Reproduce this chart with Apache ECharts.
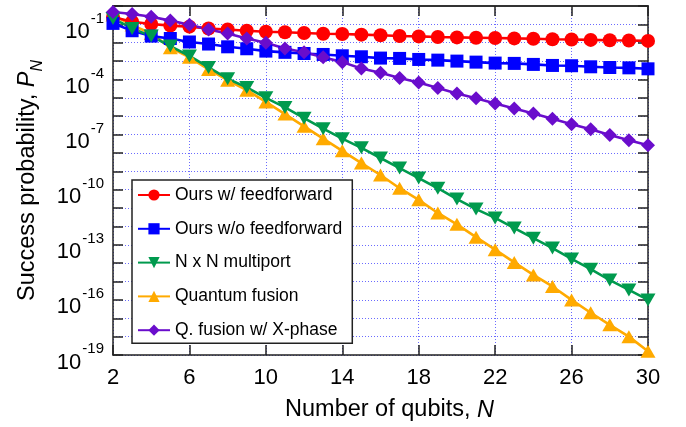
<!DOCTYPE html>
<html><head><meta charset="utf-8">
<script src="https://cdn.jsdelivr.net/npm/echarts@6/dist/echarts.min.js"></script>
<style>html,body{margin:0;padding:0;background:#fff}#c{width:686px;height:427px}</style>
</head><body><div id="c"></div>
<script>
const qubits = [2,3,4,5,6,7,8,9,10,11,12,13,14,15,16,17,18,19,20,21,22,23,24,25,26,27,28,29,30];
const oursFF = [2.5e-1,1.4e-1,1.05e-1,8.5e-2,7.5e-2,6.0e-2,5.3e-2,4.5e-2,4.0e-2,3.7e-2,3.4e-2,3.1e-2,3.0e-2,2.75e-2,2.57e-2,2.31e-2,2.21e-2,2.04e-2,1.95e-2,1.87e-2,1.8e-2,1.72e-2,1.66e-2,1.55e-2,1.49e-2,1.43e-2,1.37e-2,1.32e-2,1.26e-2];
const oursNoFF = [1.13e-1,4.5e-2,2.3e-2,1.7e-2,1.1e-2,8.5e-3,6.0e-3,4.7e-3,3.5e-3,3.0e-3,2.6e-3,2.3e-3,1.95e-3,1.72e-3,1.46e-3,1.4e-3,1.23e-3,1.13e-3,1.0e-3,8.8e-4,7.8e-4,7.5e-4,6.6e-4,5.8e-4,5.6e-4,4.9e-4,4.5e-4,4.3e-4,3.8e-4];
const multiport = [2.1e-1,6.0e-2,2.3e-2,6.6e-3,1.9e-3,4.5e-4,1.1e-4,3.7e-5,1.0e-5,3.0e-6,7.8e-7,2.1e-7,6.0e-8,1.9e-8,5.3e-9,1.5e-9,4.3e-10,1.2e-10,3.1e-11,8.8e-12,2.9e-12,8.1e-13,2.3e-13,6.6e-14,1.7e-14,4.7e-15,1.2e-15,3.5e-16,1.0e-16];
const fusion = [3.2e-1,9.1e-2,3.2e-2,5.4e-3,1.6e-3,3.5e-4,9.1e-5,2.6e-5,6.0e-6,1.3e-6,2.8e-7,6.0e-8,1.3e-8,2.8e-9,6.3e-10,1.2e-10,2.8e-11,5.4e-12,1.3e-12,2.6e-13,5.4e-14,1.1e-14,2.3e-15,5.4e-16,1.0e-16,2.0e-17,4.4e-18,1.0e-18,1.6e-19];
const fusionX = [4.7e-1,3.7e-1,2.6e-1,1.6e-1,9.6e-2,5.3e-2,3.2e-2,1.7e-2,1.0e-2,4.9e-3,3.0e-3,1.6e-3,8.8e-4,4.0e-4,2.3e-4,1.2e-4,6.9e-5,3.4e-5,1.7e-5,9.6e-6,4.9e-6,2.6e-6,1.4e-6,7.2e-7,3.7e-7,1.95e-7,9.6e-8,4.9e-8,2.6e-8];
const names = ['Ours w/ feedforward','Ours w/o feedforward','N x N multiport','Quantum fusion','Q. fusion w/ X-phase'];
const yLabelExps = [-1,-4,-7,-10,-13,-16,-19];

const FONT = 'Liberation Sans, Arial, Helvetica, sans-serif';
const pairs = arr => qubits.map((n,i)=>[n,arr[i]]);
const gridLine = {show:true, lineStyle:{color:'#6b6bff', width:1, type:[1,2]}};

function mk(name, arr, color, symbol, size, rot){
  return {name, type:'line', data:pairs(arr), symbol, symbolSize:size, symbolRotate:rot||0,
    itemStyle:{color}, lineStyle:{color, width:2.6}, emphasis:{disabled:true}, animation:false};
}

const chart = echarts.init(document.getElementById('c'));
chart.setOption({
  backgroundColor:'#fff',
  textStyle:{fontFamily:FONT},
  grid:{left:113, right:38, top:6, bottom:72, containLabel:false},
  legend:{data:names, orient:'vertical', left:132, top:180, backgroundColor:'#fff',
    borderColor:'#222', borderWidth:1.5, padding:[6,10,4,5], itemWidth:32, itemHeight:14, itemGap:15.8,
    textStyle:{fontSize:17.5, color:'#000', fontFamily:FONT}},
  xAxis:[{type:'value', min:2, max:30, interval:4, position:'bottom',
    name:'Number of qubits, {i|N}', nameLocation:'middle', nameGap:43,
    nameTextStyle:{fontSize:23.5, color:'#000', padding:[0,0,0,18], rich:{i:{fontSize:23.5,fontStyle:'italic',color:'#000'}}},
    axisLine:{onZero:false, lineStyle:{color:'#222', width:1.5}},
    axisTick:{inside:true, length:10, lineStyle:{color:'#222', width:1.5}},
    axisLabel:{fontSize:22, color:'#000', margin:12},
    splitLine:gridLine},
   {type:'value', min:2, max:30, interval:4, position:'top',
    axisLine:{onZero:false, lineStyle:{color:'#333', width:2}},
    axisTick:{inside:true, length:10, lineStyle:{color:'#222', width:1.5}},
    axisLabel:{show:false}, splitLine:{show:false}}],
  yAxis:[{type:'log', logBase:10, min:1e-19, max:1, interval:1, position:'left',
    name:'Success probability, {i|P}{s|N}', nameLocation:'middle', nameGap:65, nameRotate:90,
    nameTextStyle:{fontSize:23.5, color:'#000', rich:{i:{fontSize:23.5,fontStyle:'italic',color:'#000'}, s:{fontSize:16,fontStyle:'italic',color:'#000',verticalAlign:'bottom',padding:[0,0,-6,0]}}},
    axisLine:{lineStyle:{color:'#222', width:1.5}},
    axisTick:{inside:true, length:10, lineStyle:{color:'#222', width:1.5}},
    axisLabel:{margin:9, color:'#000', padding:[5,0,0,0], formatter:function(v){
      const e = Math.round(Math.log10(v));
      return yLabelExps.indexOf(e) >= 0 ? '{b|10}{s|' + e + '}' : '';
    }, rich:{b:{fontSize:22, color:'#000', fontFamily:FONT, verticalAlign:'bottom'},
             s:{fontSize:15, color:'#000', fontFamily:FONT, verticalAlign:'bottom', padding:[0,0,17,1]}}},
    splitLine:gridLine},
   {type:'log', logBase:10, min:1e-19, max:1, interval:1, position:'right',
    axisLine:{lineStyle:{color:'#222', width:1.5}},
    axisTick:{inside:true, length:10, lineStyle:{color:'#222', width:1.5}},
    axisLabel:{show:false}, splitLine:{show:false}}],
  series:[
    mk(names[3], fusion, '#ffaa00', 'triangle', [15,13]),
    mk(names[0], oursFF, '#ff0000', 'circle', 14),
    mk(names[1], oursNoFF, '#0000ff', 'rect', 13),
    mk(names[2], multiport, '#009a4e', 'triangle', [15,13], 180),
    mk(names[4], fusionX, '#6a0dcc', 'diamond', [14,14])
  ]
});
</script></body></html>
